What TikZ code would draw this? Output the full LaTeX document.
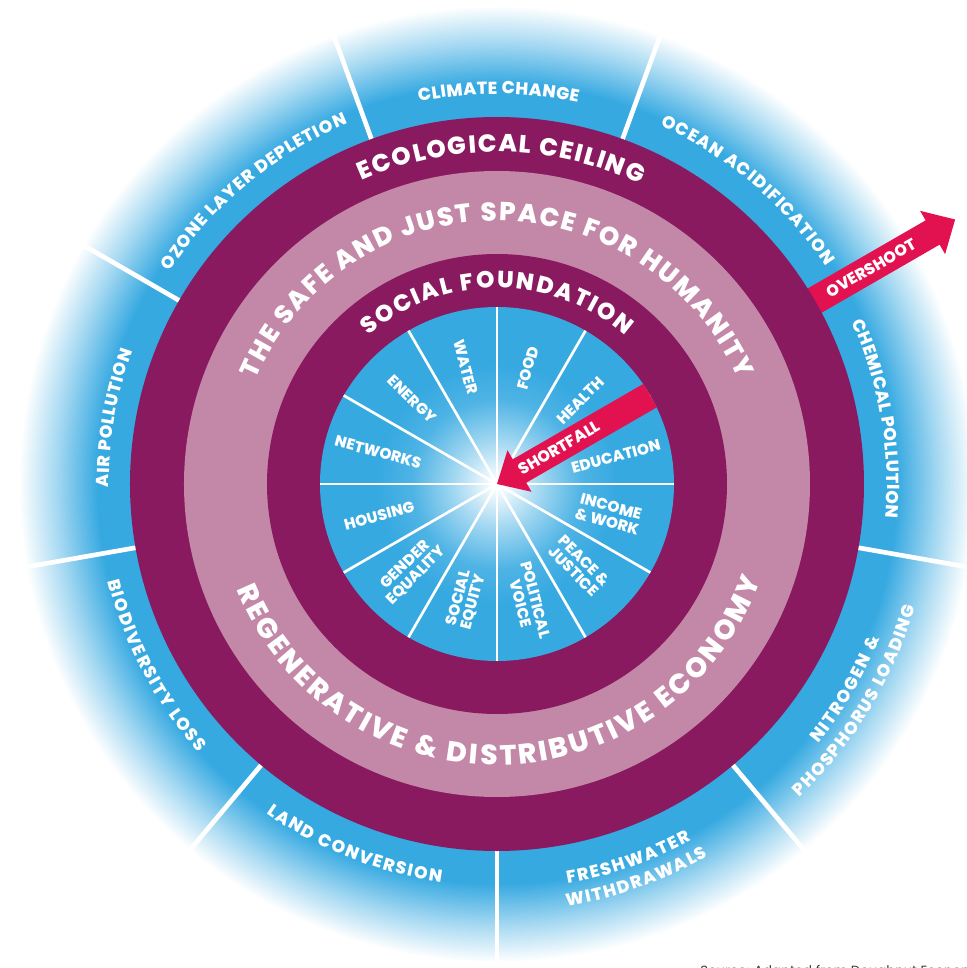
\documentclass[tikz,border=0pt]{standalone}
\usepackage{fontspec}
\setmainfont{Poppins}[BoldFont={Poppins ExtraBold}]
\usetikzlibrary{decorations.text}

\definecolor{dnBlue}{RGB}{54,169,225}
\definecolor{dnPurple}{RGB}{137,26,95}
\definecolor{dnPink}{RGB}{195,135,168}
\definecolor{dnRed}{RGB}{226,17,79}
\definecolor{dnGrey}{RGB}{60,60,60}

\pgfdeclareradialshading{boundaryglow}{\pgfpoint{0bp}{0bp}}{color(0bp)=(dnBlue); color(20.3bp)=(dnBlue); color(22.4bp)=(dnBlue!45); color(24.3bp)=(white); color(50bp)=(white)}
\pgfdeclareradialshading{wheelglow}{\pgfpoint{0bp}{0bp}}{color(0bp)=(white); color(0.4bp)=(white); color(6bp)=(dnBlue!45); color(12bp)=(dnBlue!88); color(17bp)=(dnBlue); color(50bp)=(dnBlue)}

\tikzset{
  divider/.style={white, line width=3.5pt},
  spoke/.style={white, line width=2pt},
  wheel label/.style={text=white, font=\bfseries\fontsize{11.5}{11.5}\selectfont, align=center, inner sep=0.75pt},
  arrow label/.style={text=white, font=\bfseries\fontsize{12}{12}\selectfont, inner sep=0.75pt},
  band text/.style={decorate, decoration={text along path, text align={fit to path}, text color=white, text={#1}}},
}

\begin{document}
\begin{tikzpicture}[x=0.75pt,y=0.75pt]
\useasboundingbox (-497,-484) rectangle (470,484);

%Shape: Circle [planetary boundaries]
\shade[shading=boundaryglow] (0,0) circle (492);

%Straight Lines [boundary dividers]
\draw[divider] (30:360) -- (30:480);
\draw[divider] (70:360) -- (70:480);
\draw[divider] (110:360) -- (110:480);
\draw[divider] (150:360) -- (150:480);
\draw[divider] (190:360) -- (190:480);
\draw[divider] (230:360) -- (230:480);
\draw[divider] (270:360) -- (270:485);
\draw[divider] (310:360) -- (310:480);
\draw[divider] (350:360) -- (350:480);

%Shape: Right Arrow [overshoot]
\fill[dnRed, rotate=30] (340,-14) -- (503,-14) -- (503,-25) -- (529,0) -- (503,25) -- (503,14) -- (340,14) -- cycle;

%Shape: Circle [ecological ceiling]
\fill[dnPurple] (0,0) circle (367);
%Shape: Circle [safe and just space]
\fill[dnPink] (0,0) circle (313);
%Shape: Circle [social foundation]
\fill[dnPurple] (0,0) circle (230);
%Shape: Circle [social wheel]
\shade[shading=wheelglow] (0,0) circle (177);

%Straight Lines [wheel spokes]
\draw[spoke] (0:177) -- (180:177);
\draw[spoke] (30:177) -- (210:177);
\draw[spoke] (60:177) -- (240:177);
\draw[spoke] (90:177) -- (270:177);
\draw[spoke] (120:177) -- (300:177);
\draw[spoke] (150:177) -- (330:177);

%Shape: Left Arrow [shortfall]
\begin{scope}
\clip (0,0) circle (177);
\fill[dnRed, rotate=30] (200,-13.5) -- (26,-13.5) -- (26,-24) -- (0,0) -- (26,24) -- (26,13.5) -- (200,13.5) -- cycle;
\end{scope}

% Text Node
\node[arrow label, rotate=30] (overshoot) at (30:432) {OVERSHOOT};
% Text Node
\node[arrow label, rotate=30] (shortfall) at (30:72) {SHORTFALL};

% Text Node [wheel]
\node[wheel label, rotate=75] (food) at (75:120) {FOOD};
\node[wheel label, rotate=45] (health) at (45:118) {HEALTH};
\node[wheel label, rotate=15] (education) at (13:122) {EDUCATION};
\node[wheel label, rotate=-15] (income) at (-15:116) {INCOME\\\& WORK};
\node[wheel label, rotate=-45] (peace) at (-45:116) {PEACE \&\\JUSTICE};
\node[wheel label, rotate=-75] (political) at (-75:122) {POLITICAL\\VOICE};
\node[wheel label, rotate=75] (social) at (255:120) {SOCIAL\\EQUITY};
\node[wheel label, rotate=45] (gender) at (225:122) {GENDER\\EQUALITY};
\node[wheel label, rotate=15] (housing) at (195:122) {HOUSING};
\node[wheel label, rotate=-15] (networks) at (165:123) {NETWORKS};
\node[wheel label, rotate=-45] (energy) at (135:120) {ENERGY};
\node[wheel label, rotate=-75] (water) at (105:121) {WATER};

% Text along arcs [rings]
\path[band text={|\bfseries\fontsize{18.5}{18.5}\selectfont|ECOLOGICAL CEILING}] (114:332) arc[start angle=114, end angle=64.5, radius=332];
\path[band text={|\bfseries\fontsize{19.5}{19.5}\selectfont|THE SAFE AND JUST SPACE FOR HUMANITY}] (156.5:263) arc[start angle=156.5, end angle=23.5, radius=263];
\path[band text={|\bfseries\fontsize{17.5}{17.5}\selectfont|SOCIAL FOUNDATION}] (131:196) arc[start angle=131, end angle=49, radius=196];
\path[band text={|\bfseries\fontsize{21}{21}\selectfont|REGENERATIVE {\&} DISTRIBUTIVE ECONOMY}] (202:281) arc[start angle=202, end angle=340, radius=281];

% Text along arcs [planetary boundaries]
\path[band text={|\bfseries\fontsize{13}{13}\selectfont|CLIMATE CHANGE}] (101.5:390) arc[start angle=101.5, end angle=78, radius=390];
\path[band text={|\bfseries\fontsize{13}{13}\selectfont|OCEAN ACIDIFICATION}] (65.5:394) arc[start angle=65.5, end angle=33.5, radius=394];
\path[band text={|\bfseries\fontsize{13}{13}\selectfont|CHEMICAL POLLUTION}] (24.5:390) arc[start angle=24.5, end angle=-5, radius=390];
\path[band text={|\bfseries\fontsize{13}{13}\selectfont|OZONE LAYER DEPLETION}] (147:390) arc[start angle=147, end angle=112.5, radius=390];
\path[band text={|\bfseries\fontsize{13}{13}\selectfont|AIR POLLUTION}] (180.5:388) arc[start angle=180.5, end angle=160, radius=388];
\path[band text={|\bfseries\fontsize{13}{13}\selectfont|BIODIVERSITY LOSS}] (194:401) arc[start angle=194, end angle=222, radius=401];
\path[band text={|\bfseries\fontsize{13}{13}\selectfont|LAND CONVERSION}] (235:402) arc[start angle=235, end angle=262, radius=402];
\path[band text={|\bfseries\fontsize{13}{13}\selectfont|FRESHWATER}] (280:406) arc[start angle=280, end angle=298.6, radius=406];
\path[band text={|\bfseries\fontsize{13}{13}\selectfont|WITHDRAWALS}] (279.4:428) arc[start angle=279.4, end angle=299.6, radius=428];
\path[band text={|\bfseries\fontsize{13}{13}\selectfont|NITROGEN {\&}}] (321:413) arc[start angle=321, end angle=338, radius=413];
\path[band text={|\bfseries\fontsize{13}{13}\selectfont|PHOSPHORUS LOADING}] (314:436) arc[start angle=314, end angle=343.6, radius=436];

% Text Node
\node[anchor=north west, inner sep=0pt, text=dnGrey, font=\fontsize{10}{10}\selectfont] (source) at (203,-481) {Source: Adapted from Doughnut Economics};

\end{tikzpicture}
\end{document}
